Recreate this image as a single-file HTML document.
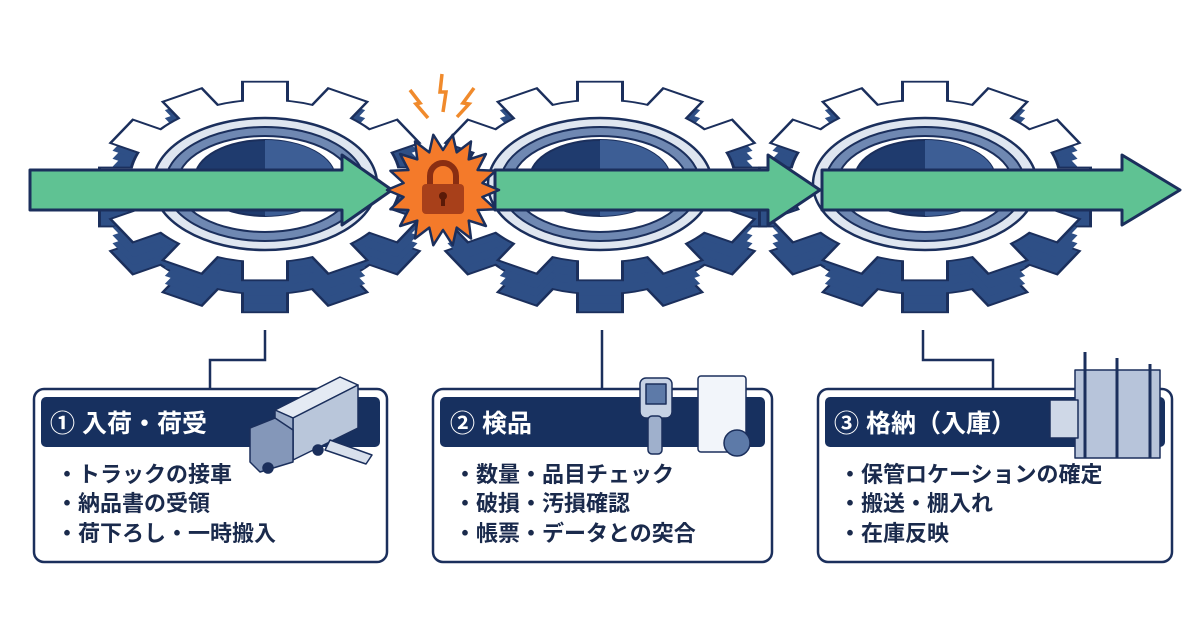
<!DOCTYPE html>
<html><head><meta charset="utf-8"><style>
html,body{margin:0;padding:0;background:#fff;}
svg{display:block}
text{font-family:"Liberation Sans","Noto Sans CJK JP",sans-serif;font-weight:bold}
</style></head><body>
<svg width="1200" height="630" viewBox="0 0 1200 630" xmlns="http://www.w3.org/2000/svg" xmlns:xlink="http://www.w3.org/1999/xlink">
<defs>
<g id="gs">
<circle cx="0" cy="0" r="134"/>
<rect x="-21" y="-164" width="42" height="42" transform="rotate(0)"/>
<rect x="-21" y="-164" width="42" height="42" transform="rotate(30)"/>
<rect x="-21" y="-164" width="42" height="42" transform="rotate(60)"/>
<rect x="-21" y="-164" width="42" height="42" transform="rotate(90)"/>
<rect x="-21" y="-164" width="42" height="42" transform="rotate(120)"/>
<rect x="-21" y="-164" width="42" height="42" transform="rotate(150)"/>
<rect x="-21" y="-164" width="42" height="42" transform="rotate(180)"/>
<rect x="-21" y="-164" width="42" height="42" transform="rotate(210)"/>
<rect x="-21" y="-164" width="42" height="42" transform="rotate(240)"/>
<rect x="-21" y="-164" width="42" height="42" transform="rotate(270)"/>
<rect x="-21" y="-164" width="42" height="42" transform="rotate(300)"/>
<rect x="-21" y="-164" width="42" height="42" transform="rotate(330)"/>
</g>
<g id="gear">
<use xlink:href="#gs" transform="translate(0,32) scale(1,0.6)" fill="#1b2f5c" stroke="#1b2f5c" stroke-width="6"/>
<use xlink:href="#gs" transform="translate(0,32) scale(1,0.6)" fill="#2e4f86"/>
<use xlink:href="#gs" transform="translate(0,24) scale(1,0.6)" fill="#2e4f86"/>
<use xlink:href="#gs" transform="translate(0,16) scale(1,0.6)" fill="#2e4f86"/>
<use xlink:href="#gs" transform="translate(0,8) scale(1,0.6)" fill="#2e4f86"/>
<use xlink:href="#gs" transform="scale(1,0.6)" fill="#1b2f5c" stroke="#1b2f5c" stroke-width="6"/>
<use xlink:href="#gs" transform="scale(1,0.6)" fill="#fff"/>
<ellipse cx="0" cy="3" rx="112" ry="66" fill="#dfe6f0" stroke="#1b2f5c" stroke-width="2.5"/>
<ellipse cx="0" cy="3" rx="100" ry="57" fill="#6f88b2" stroke="#1b2f5c" stroke-width="2"/>
<ellipse cx="0" cy="3" rx="88" ry="48" fill="#fff" stroke="#1b2f5c" stroke-width="2"/>
<ellipse cx="0" cy="-3" rx="70" ry="38" fill="#1f3b6e" stroke="#1b2f5c" stroke-width="2"/>
<path d="M0,-41 a70,38 0 0 1 0,76z" fill="#3d5e95"/>
</g>
</defs>
<use xlink:href="#gear" transform="translate(265,181)"/>
<use xlink:href="#gear" transform="translate(600,181)"/>
<use xlink:href="#gear" transform="translate(925,181)"/>
<g stroke="#1b2f5c" stroke-width="3" fill="#5fc293" stroke-linejoin="round">
<polygon points="30,170 342,170 342,155 392,190 342,225 342,210 30,210"/>
<polygon points="495,170 768,170 768,155 820,190 768,225 768,210 495,210"/>
<polygon points="822,170 1122,170 1122,155 1180,190 1122,225 1122,210 822,210"/>
</g>
<polygon fill="#f47a2a" stroke="#1b2f5c" stroke-width="2.5" stroke-linejoin="round" points="499,190 482.4,197 495.6,209.2 477.6,210 485.9,226 468.7,220.6 471,238.5 456.7,227.6 452.7,245.2 443,230 433.3,245.2 429.3,227.6 415,238.5 417.3,220.6 400.1,226 408.4,210 390.4,209.2 403.6,197 387,190 403.6,183 390.4,170.8 408.4,170 400.1,154 417.3,159.4 415,141.5 429.3,152.4 433.3,134.8 443,150 452.7,134.8 456.7,152.4 471,141.5 468.7,159.4 485.9,154 477.6,170 495.6,170.8 482.4,183"/>
<g>
<path d="M430,186 v-10 a13,13 0 0 1 26,0 v10" fill="none" stroke="#8a2e12" stroke-width="6"/>
<rect x="422" y="184" width="42" height="30" rx="4" fill="#a8401a"/>
<circle cx="443" cy="196" r="4" fill="#5a1a08"/><rect x="441" y="197" width="4" height="9" fill="#5a1a08"/>
</g>
<g fill="none" stroke="#f08a2c" stroke-width="3.5">
<polyline points="410,90 420,103 416,104 428,118"/>
<polyline points="442,74 440,92 446,92 443,112"/>
<polyline points="474,88 463,103 469,104 457,117"/>
</g>
<g stroke="#1b2f5c" stroke-width="2.5" fill="none">
<polyline points="265,330 265,360 210,360 210,390"/>
<polyline points="602,330 602,390"/>
<polyline points="923,330 923,360 993,360 993,390"/>
</g>
<g stroke="#1b2f5c" stroke-width="2.5" fill="#fff">
<rect x="34" y="389" width="353" height="173" rx="10"/>
<rect x="433" y="389" width="339" height="173" rx="10"/>
<rect x="818" y="389" width="354" height="173" rx="10"/>
</g>
<g fill="#17305f">
<rect x="41" y="397" width="339" height="50" rx="5"/>
<rect x="440" y="397" width="325" height="50" rx="5"/>
<rect x="825" y="397" width="340" height="50" rx="5"/>
</g>
<g fill="#fff" font-size="25">
<text x="50" y="432">① 入荷・荷受</text>
<text x="450" y="432">② 検品</text>
<text x="834" y="432">③ 格納（入庫）</text>
</g>
<g fill="#1a2a4c" font-size="22">
<text x="56" y="482">・トラックの接車</text>
<text x="56" y="511">・納品書の受領</text>
<text x="56" y="541">・荷下ろし・一時搬入</text>
<text x="454" y="482">・数量・品目チェック</text>
<text x="454" y="511">・破損・汚損確認</text>
<text x="454" y="541">・帳票・データとの突合</text>
<text x="839" y="482">・保管ロケーションの確定</text>
<text x="839" y="511">・搬送・棚入れ</text>
<text x="839" y="541">・在庫反映</text>
</g>
<g stroke="#1b2f5c" stroke-width="1.5" stroke-linejoin="round">
<polygon points="275,410 340,377 358,385 293,418" fill="#e4eaf3"/>
<polygon points="293,418 358,385 358,428 293,460" fill="#b9c6da"/>
<polygon points="275,410 293,418 293,460 275,452" fill="#9aabc8"/>
<polygon points="250,428 275,418 293,430 293,462 260,472 250,462" fill="#8497b9"/>
<polygon points="330,440 372,455 366,464 325,450" fill="#d8e0ec"/>
<circle cx="268" cy="468" r="5" fill="#1b2f5c"/><circle cx="318" cy="450" r="5" fill="#1b2f5c"/>
<rect x="640" y="378" width="32" height="40" rx="6" fill="#c6d2e4"/>
<rect x="646" y="384" width="20" height="20" fill="#5d7aa8"/>
<rect x="648" y="416" width="14" height="38" rx="4" fill="#9fb0cc"/>
<rect x="698" y="376" width="48" height="76" rx="3" fill="#f2f5fa"/>
<circle cx="737" cy="443" r="13" fill="#5d7aa8"/>
<rect x="1075" y="370" width="85" height="88" fill="#b7c4da"/>
<rect x="1050" y="400" width="28" height="38" fill="#cfd8e7"/>
</g>
<g stroke="#1b2f5c" stroke-width="3"><line x1="1085" y1="352" x2="1085" y2="458"/><line x1="1117" y1="358" x2="1117" y2="458"/><line x1="1150" y1="364" x2="1150" y2="458"/></g>
</svg>
</body></html>
